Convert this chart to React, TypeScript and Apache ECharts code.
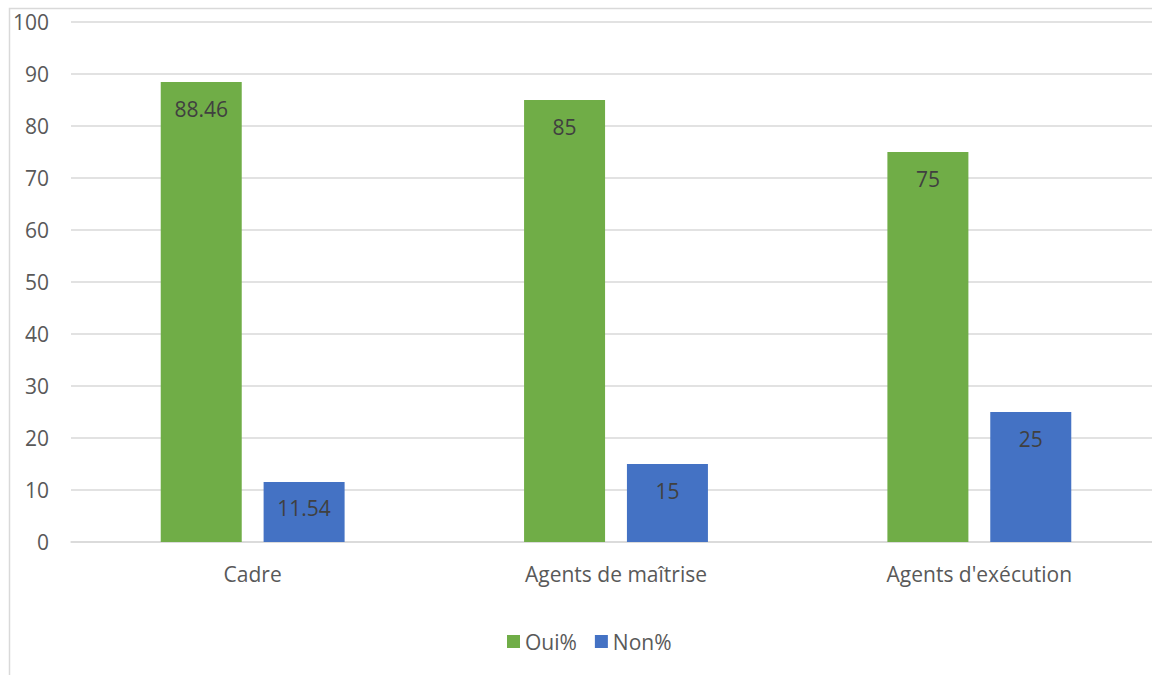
import React, { useEffect, useRef } from "react";
import * as echarts from "echarts";

const categories = ["Cadre", "Agents de maîtrise", "Agents d'exécution"];
const ouiValues = [88.46, 85, 75];
const nonValues = [11.54, 15, 25];
const seriesNames = ["Oui%", "Non%"];

const GREEN = "#70AD47";
const BLUE = "#4472C4";
const GRID = "#D9D9D9";
const TEXT = "#595959";
const LABEL = "#404040";
const FONT = "'Open Sans', 'Noto Sans', sans-serif";

export default function App() {
  const ref = useRef<HTMLDivElement>(null);

  useEffect(() => {
    if (!ref.current) return;
    const chart = echarts.init(ref.current, null, { renderer: "svg" });
    const barLabel = {
      show: true,
      position: "insideTop",
      distance: 16,
      color: LABEL,
      fontSize: 21,
      fontFamily: FONT,
    };
    chart.setOption({
      animation: false,
      backgroundColor: "#ffffff",
      textStyle: { fontFamily: FONT },
      graphic: [
        {
          type: "polyline",
          shape: { points: [[9.5, 700], [9.5, 8.5], [1200, 8.5]] },
          style: { stroke: GRID, lineWidth: 1.5, fill: null },
          silent: true,
        },
      ],
      grid: { left: 71, right: 0, top: 22, bottom: 133, containLabel: false },
      legend: {
        data: seriesNames,
        top: 626,
        left: 502,
        itemWidth: 13,
        itemHeight: 13,
        itemGap: 18,
        icon: "rect",
        textStyle: { color: TEXT, fontSize: 21, fontFamily: FONT },
      },
      xAxis: {
        type: "category",
        data: categories,
        axisLine: { show: true, lineStyle: { color: GRID, width: 1.5 } },
        axisTick: { show: false },
        axisLabel: { color: TEXT, fontSize: 21, margin: 21, fontFamily: FONT },
      },
      yAxis: {
        type: "value",
        min: 0,
        max: 100,
        interval: 10,
        axisLine: { show: false },
        axisTick: { show: false },
        axisLabel: { color: TEXT, fontSize: 21, margin: 22, fontFamily: FONT },
        splitLine: { lineStyle: { color: GRID, width: 1.5 } },
      },
      series: [
        {
          name: seriesNames[0],
          type: "bar",
          data: ouiValues,
          barWidth: 81,
          barGap: "27%",
          itemStyle: { color: GREEN },
          label: barLabel,
        },
        {
          name: seriesNames[1],
          type: "bar",
          data: nonValues,
          barWidth: 81,
          itemStyle: { color: BLUE },
          label: barLabel,
        },
      ],
    });
    return () => chart.dispose();
  }, []);

  return (
    <div
      ref={ref}
      style={{ position: "fixed", left: 0, top: 0, width: 1161, height: 675 }}
    />
  );
}
